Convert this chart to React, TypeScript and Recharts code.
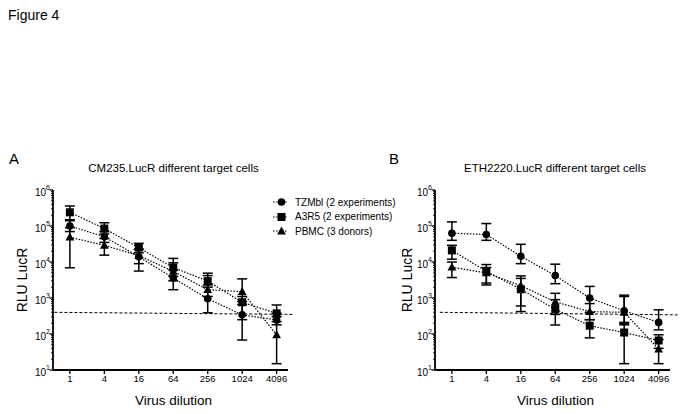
import React from 'react';
import { LineChart, Line, XAxis, YAxis, ErrorBar, ReferenceLine, Legend } from 'recharts';

const dilutions = [1, 4, 16, 64, 256, 1024, 4096];
const yMajor = [10, 100, 1e3, 1e4, 1e5, 1e6];

// CM235.LucR
const cmTzm = [1.0e5, 5.0e4, 1.4e4, 3.6e3, 950, 340, 245];
const cmTzmLo = [7.0e4, 3.5e4, 5.6e3, 1.7e3, 390, 68, 180];
const cmTzmHi = [1.4e5, 7.0e4, 2.3e4, 6.0e3, 2.3e3, 800, 380];
const cmA3 = [2.4e5, 8.5e4, 2.5e4, 7.0e3, 2.95e3, 760, 375];
const cmA3Lo = [1.5e5, 6.0e4, 1.8e4, 4.0e3, 2.0e3, 250, 220];
const cmA3Hi = [3.6e5, 1.23e5, 3.3e4, 1.26e4, 4.9e3, 1.1e3, 640];
const cmPb = [4.9e4, 2.9e4, 1.5e4, 5.5e3, 1.7e3, 1.5e3, 94];
const cmPbLo = [6.9e3, 1.55e4, 9.0e3, 3.0e3, 1.1e3, 650, 15];
const cmPbHi = [9.0e4, 4.5e4, 2.2e4, 9.5e3, 4.2e3, 3.4e3, 300];
const cmCutoff = [
  { x: -0.45, y: 400 },
  { x: 6.5, y: 350 },
];

// ETH2220.LucR
const ethTzm = [6.3e4, 5.8e4, 1.45e4, 4.2e3, 1.0e3, 440, 210];
const ethTzmLo = [4.0e4, 4.0e4, 9.0e3, 2.5e3, 400, 180, 130];
const ethTzmHi = [1.3e5, 1.17e5, 3.1e4, 8.7e3, 2.1e3, 1.1e3, 470];
const ethA3 = [2.1e4, 5.5e3, 1.75e3, 490, 170, 110, 66];
const ethA3Lo = [1.2e4, 2.6e3, 420, 178, 78, 15, 40];
const ethA3Hi = [2.9e4, 8.5e3, 4.1e3, 900, 250, 210, 95];
const ethPb = [7.2e3, 5.0e3, 2.2e3, 780, 420, 400, 38];
const ethPbLo = [3.7e3, 2.3e3, 600, 350, 250, 200, 15];
const ethPbHi = [1.0e4, 7.0e3, 3.5e3, 1.35e3, 700, 1.2e3, 70];
const ethCutoff = [
  { x: -0.35, y: 400 },
  { x: 6.55, y: 340 },
];

const seriesNames = ['TZMbl (2 experiments)', 'A3R5 (2 experiments)', 'PBMC (3 donors)'];
const shapes = ['circle', 'square', 'triangle'];

const FONT = '"Liberation Sans", Arial, Helvetica, sans-serif';

// minor log ticks 2..9 per decade
const yTicks: number[] = [];
yMajor.forEach((d, k) => {
  yTicks.push(d);
  if (k < yMajor.length - 1) for (let m = 2; m <= 9; m++) yTicks.push(m * d);
});

function buildRows(vals: number[][], lo: number[][], hi: number[][]) {
  return dilutions.map((_, i) => {
    const row: any = { i };
    vals.forEach((v, s) => {
      row['s' + s] = v[i];
      row['e' + s] = [v[i] - lo[s][i], hi[s][i] - v[i]];
    });
    return row;
  });
}

const cmRows = buildRows([cmTzm, cmA3, cmPb], [cmTzmLo, cmA3Lo, cmPbLo], [cmTzmHi, cmA3Hi, cmPbHi]);
const ethRows = buildRows([ethTzm, ethA3, ethPb], [ethTzmLo, ethA3Lo, ethPbLo], [ethTzmHi, ethA3Hi, ethPbHi]);

function Marker({ shape, cx, cy }: { shape: string; cx: number; cy: number }) {
  if (shape === 'circle') return <circle cx={cx} cy={cy} r={3.8} fill="#000" />;
  if (shape === 'square') return <rect x={cx - 4} y={cy - 4} width={8} height={8} fill="#000" />;
  return <path d={`M${cx},${cy - 4.6}L${cx + 4.4},${cy + 3.4}L${cx - 4.4},${cy + 3.4}Z`} fill="#000" />;
}

const dotFor = (shape: string) => (props: any) => {
  const { cx, cy, index } = props;
  if (cx == null || cy == null) return <g key={index} />;
  return (
    <g key={index}>
      <Marker shape={shape} cx={cx} cy={cy} />
    </g>
  );
};

function YTick({ x, y, payload }: any) {
  const v = payload.value;
  const lg = Math.log10(v);
  const major = Math.abs(lg - Math.round(lg)) < 1e-6;
  return (
    <g>
      <line x1={x - (major ? 3.5 : 2)} x2={x} y1={y} y2={y} stroke="#000" strokeWidth={major ? 1.3 : 0.9} />
      {major && (
        <text x={x - 3} y={y + 6} textAnchor="end" fontSize={10} fill="#000" fontFamily={FONT}>
          10
          <tspan dy={-6} fontSize={7}>
            {Math.round(lg)}
          </tspan>
        </text>
      )}
    </g>
  );
}

function LegendBox() {
  return (
    <div style={{ fontFamily: FONT, fontSize: 10, color: '#000' }}>
      {seriesNames.map((n, s) => (
        <div key={n} style={{ display: 'flex', alignItems: 'center', height: 14.5 }}>
          <svg width={17} height={10} style={{ display: 'block' }}>
            <line x1={0} x2={15} y1={5} y2={5} stroke="#000" strokeWidth={1.2} strokeDasharray="1.5 1.5" />
            <Marker shape={shapes[s]} cx={8.5} cy={5} />
          </svg>
          <span style={{ marginLeft: 5, whiteSpace: 'nowrap' }}>{n}</span>
        </div>
      ))}
    </div>
  );
}

function Panel({
  rows,
  cutoff,
  width,
  left,
  right,
  yLabelOffset,
  legend,
}: {
  rows: any[];
  cutoff: { x: number; y: number }[];
  width: number;
  left: number;
  right: number;
  yLabelOffset: number;
  legend?: boolean;
}) {
  return (
    <LineChart width={width} height={274} data={rows} margin={{ top: 50, right, bottom: 4, left }}>
      <XAxis
        dataKey="i"
        type="number"
        domain={[-0.49, 6.33]}
        allowDataOverflow
        ticks={[0, 1, 2, 3, 4, 5, 6]}
        interval={0}
        tickFormatter={(v) => String(dilutions[v])}
        height={40}
        tickSize={4}
        tickMargin={1}
        axisLine={{ stroke: '#000', strokeWidth: 1.8 }}
        tickLine={{ stroke: '#000', strokeWidth: 1.3 }}
        tick={{ fill: '#000', fontSize: 9.5, fontFamily: FONT }}
        label={{
          value: 'Virus dilution',
          position: 'insideBottom',
          offset: 5,
          dx: 3,
          style: { fill: '#000', fontSize: 13.5, fontFamily: FONT },
        }}
      />
      <YAxis
        yAxisId="y"
        type="number"
        scale="log"
        domain={[10, 1e6]}
        allowDataOverflow
        ticks={yTicks}
        interval={0}
        width={40}
        tickSize={0}
        tickMargin={0}
        tickLine={false}
        axisLine={{ stroke: '#000', strokeWidth: 1.8 }}
        tick={<YTick />}
        label={{
          value: 'RLU LucR',
          angle: -90,
          position: 'insideLeft',
          offset: yLabelOffset,
          style: { textAnchor: 'middle', fill: '#000', fontSize: 14, fontFamily: FONT },
        }}
      />
      <ReferenceLine
        yAxisId="y"
        segment={cutoff}
        stroke="#000"
        strokeWidth={1}
        strokeDasharray="3 2"
        ifOverflow="visible"
      />
      {shapes.map((sh, s) => (
        <Line
          key={sh}
          yAxisId="y"
          dataKey={'s' + s}
          name={seriesNames[s]}
          type="linear"
          stroke="#000"
          strokeWidth={1.2}
          strokeDasharray="1.5 1.5"
          dot={dotFor(sh)}
          activeDot={false}
          isAnimationActive={false}
        >
          <ErrorBar dataKey={'e' + s} direction="y" width={5} stroke="#000" strokeWidth={1.5} />
        </Line>
      ))}
      {legend && (
        <Legend
          layout="vertical"
          align="center"
          verticalAlign="middle"
          content={() => <LegendBox />}
          wrapperStyle={{ left: 273, top: 55, width: 180 }}
        />
      )}
    </LineChart>
  );
}

export default function App() {
  const abs = (l: number, t: number): React.CSSProperties => ({ position: 'absolute', left: l, top: t });
  return (
    <div
      style={{
        position: 'absolute',
        left: 0,
        top: 0,
        width: 683,
        height: 414,
        background: '#fff',
        fontFamily: FONT,
        color: '#000',
        overflow: 'hidden',
      }}
    >
      <div style={{ ...abs(8, 7), fontSize: 14 }}>Figure 4</div>
      <div style={{ ...abs(9, 150), fontSize: 15 }}>A</div>
      <div style={{ ...abs(389, 150), fontSize: 15 }}>B</div>
      <div style={{ ...abs(173.5, 162), fontSize: 11.5, transform: 'translateX(-50%)', whiteSpace: 'nowrap' }}>
        CM235.LucR different target cells
      </div>
      <div style={{ ...abs(555, 162), fontSize: 11.5, transform: 'translateX(-50%)', whiteSpace: 'nowrap' }}>
        ETH2220.LucR different target cells
      </div>
      <div style={abs(0, 140)}>
        <Panel rows={cmRows} cutoff={cmCutoff} width={340} left={13} right={52} yLabelOffset={9} legend />
      </div>
      <div style={abs(340, 140)}>
        <Panel rows={ethRows} cutoff={ethCutoff} width={343} left={55} right={13} yLabelOffset={12} />
      </div>
    </div>
  );
}
